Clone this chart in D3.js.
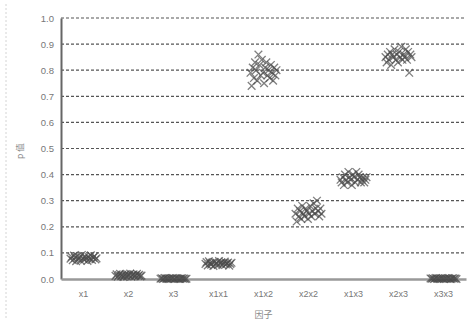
<!DOCTYPE html>
<html>
<head>
<meta charset="utf-8">
<script src="https://cdn.jsdelivr.net/npm/d3@7"></script>
<style>
  body { margin: 0; background: #fff; }
  text { font-family: "Liberation Sans", "Noto Sans CJK SC", sans-serif; }
</style>
</head>
<body>
<div id="chart"></div>
<script>
// factor names on the x axis
const factors = ["x1", "x2", "x3", "x1x1", "x1x2", "x2x2", "x1x3", "x2x3", "x3x3"];

// p values per factor (repeated runs)
const pX1   = [0.078,0.085,0.072,0.090,0.081,0.068,0.088,0.076,0.083,0.070,0.092,0.079,0.074,0.086,0.080,0.069,0.084,0.077,0.091,0.073,0.082,0.087,0.075,0.079];
const pX2   = [0.012,0.018,0.009,0.015,0.020,0.011,0.016,0.008,0.014,0.019,0.010,0.017,0.013,0.021,0.009,0.015,0.018,0.011,0.014,0.020,0.012,0.016,0.010,0.013];
const pX3   = [0.001,0.003,0.000,0.002,0.004,0.001,0.002,0.000,0.003,0.001,0.002,0.004,0.000,0.001,0.003,0.002,0.001,0.000,0.002,0.003,0.001,0.002,0.000,0.001];
const pX1X1 = [0.058,0.065,0.052,0.068,0.060,0.055,0.063,0.050,0.066,0.057,0.062,0.054,0.069,0.059,0.064,0.053,0.061,0.067,0.056,0.060,0.063,0.051,0.058,0.062];
const pX1X2 = [0.79,0.74,0.81,0.77,0.83,0.80,0.76,0.86,0.82,0.78,0.84,0.79,0.75,0.81,0.83,0.78,0.80,0.77,0.82,0.79,0.76,0.81,0.78,0.80];
const pX2X2 = [0.25,0.22,0.27,0.24,0.26,0.23,0.28,0.25,0.24,0.27,0.26,0.23,0.25,0.28,0.24,0.26,0.29,0.25,0.27,0.30,0.26,0.24,0.27,0.25];
const pX1X3 = [0.38,0.37,0.39,0.36,0.40,0.38,0.37,0.41,0.39,0.38,0.36,0.40,0.39,0.37,0.41,0.38,0.40,0.39,0.37,0.38,0.39,0.37,0.38,0.39];
const pX2X3 = [0.85,0.83,0.86,0.84,0.87,0.82,0.86,0.85,0.88,0.84,0.86,0.83,0.87,0.85,0.89,0.84,0.86,0.85,0.88,0.84,0.87,0.79,0.86,0.85];
const pX3X3 = [0.002,0.001,0.003,0.000,0.002,0.004,0.001,0.002,0.000,0.003,0.001,0.002,0.000,0.003,0.001,0.002,0.004,0.001,0.000,0.002,0.003,0.001,0.002,0.000];

const yTicks = [0, 0.1, 0.2, 0.3, 0.4, 0.5, 0.6, 0.7, 0.8, 0.9, 1.0];

const series = [pX1, pX2, pX3, pX1X1, pX1X2, pX2X2, pX1X3, pX2X3, pX3X3];

makeScatter();

function makeScatter() {
    const W = 471, H = 324;
    const margin = { top: 18, right: 5, bottom: 45, left: 61 };
    const width = W - margin.left - margin.right;
    const height = H - margin.top - margin.bottom;

    const root = d3.select("#chart")
        .append("svg")
        .attr("width", W)
        .attr("height", H);

    // faint scan border on the left
    root.append("line")
        .attr("x1", 6).attr("x2", 6)
        .attr("y1", 4).attr("y2", H - 4)
        .attr("stroke", "#d4d4d4")
        .attr("stroke-dasharray", "2,2");

    const svg = root.append("g")
        .attr("transform", `translate(${margin.left},${margin.top})`);

    const x = d3.scaleBand()
        .domain(factors)
        .range([0, width]);

    const y = d3.scaleLinear()
        .domain([0, 1])
        .range([height, 0]);

    // dashed grid lines
    svg.append("g")
        .selectAll("line")
        .data(yTicks.filter(d => d > 0))
        .enter()
        .append("line")
        .attr("x1", 0)
        .attr("x2", width)
        .attr("y1", d => y(d))
        .attr("y2", d => y(d))
        .attr("stroke", "#555")
        .attr("stroke-width", 1.2)
        .attr("stroke-dasharray", "3,2");

    // y axis
    const yAxis = svg.append("g")
        .call(d3.axisLeft(y).tickValues(yTicks).tickFormat(d3.format(".1f")).tickSize(0).tickPadding(7));
    yAxis.select(".domain").attr("stroke", "#666").attr("stroke-width", 2);
    yAxis.selectAll("text").attr("fill", "#777").style("font-size", "9.5px");

    // x axis
    const xAxis = svg.append("g")
        .attr("transform", `translate(0,${height})`)
        .call(d3.axisBottom(x).tickSize(0).tickPadding(12));
    xAxis.select(".domain").attr("stroke", "#999").attr("stroke-width", 2.5);
    xAxis.selectAll("text").attr("fill", "#777").style("font-size", "9px");

    // axis titles
    svg.append("text")
        .attr("x", width / 2)
        .attr("y", height + 39)
        .attr("text-anchor", "middle")
        .attr("fill", "#888")
        .style("font-size", "9px")
        .style("font-family", "Noto Sans CJK SC")
        .text("因子");

    svg.append("text")
        .attr("transform", `translate(${-38},${y(0.49)}) rotate(-90)`)
        .attr("text-anchor", "middle")
        .attr("fill", "#888")
        .style("font-size", "8.5px")
        .style("font-family", "Noto Sans CJK SC")
        .text("p 值");

    // points: each run spread across the band by its index
    const points = [];
    factors.forEach((f, i) => {
        series[i].forEach((v, j) => points.push({ factor: f, p: v, run: j }));
    });

    const jitter = d3.scalePoint()
        .domain(d3.range(pX1.length))
        .range([-13, 13]);

    const cross = d3.symbol().type(d3.symbolX).size(40);

    svg.selectAll(".pt")
        .data(points)
        .enter()
        .append("path")
        .attr("class", "pt")
        .attr("d", cross)
        .attr("transform", d => `translate(${x(d.factor) + x.bandwidth() / 2 + jitter(d.run)},${y(d.p)})`)
        .attr("fill", "none")
        .attr("stroke", "#4a4a4a")
        .attr("stroke-width", 1.3)
        .attr("stroke-opacity", 0.7);
}
</script>
</body>
</html>
